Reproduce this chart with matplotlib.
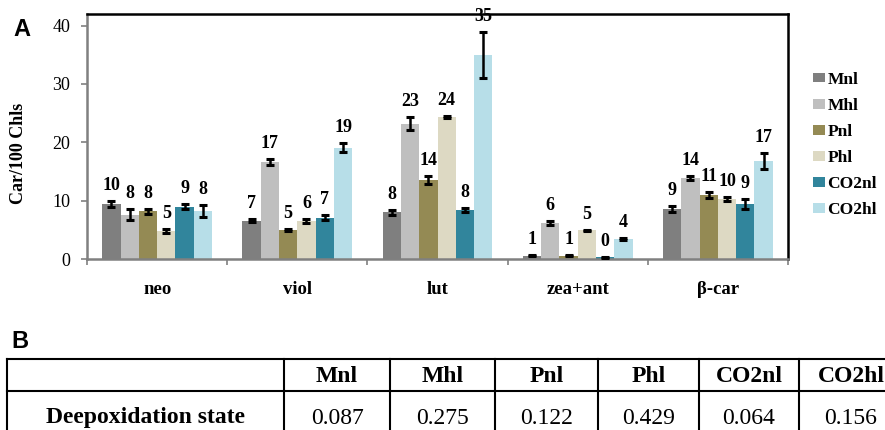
import matplotlib
matplotlib.use("Agg")
import matplotlib.pyplot as plt
from matplotlib.patches import Patch
import numpy as np

plt.rcParams['font.family'] = ['Liberation Serif', 'DejaVu Serif']

# ---------------- data ----------------
categories = ['neo', 'viol', 'lut', 'zea+ant', 'β-car']
series_names = ['Mnl', 'Mhl', 'Pnl', 'Phl', 'CO2nl', 'CO2hl']

Mnl = [9.5, 6.6, 8.0, 0.6, 8.6]
Mhl = [7.6, 16.6, 23.2, 6.2, 13.9]
Pnl = [8.2, 5.0, 13.5, 0.6, 11.0]
Phl = [4.8, 6.5, 24.4, 4.9, 10.3]
CO2nl = [9.0, 7.1, 8.4, 0.3, 9.4]
CO2hl = [8.2, 19.1, 35.0, 3.4, 16.8]

Mnl_err = [0.5, 0.3, 0.4, 0.05, 0.5]
Mhl_err = [0.9, 0.5, 1.1, 0.4, 0.3]
Pnl_err = [0.4, 0.15, 0.7, 0.05, 0.5]
Phl_err = [0.3, 0.4, 0.15, 0.15, 0.3]
CO2nl_err = [0.5, 0.4, 0.3, 0.05, 0.9]
CO2hl_err = [1.0, 0.8, 4.0, 0.2, 1.3]

Mnl_lbl = [10, 7, 8, 1, 9]
Mhl_lbl = [8, 17, 23, 6, 14]
Pnl_lbl = [8, 5, 14, 1, 11]
Phl_lbl = [5, 6, 24, 5, 10]
CO2nl_lbl = [9, 7, 8, 0, 9]
CO2hl_lbl = [8, 19, 35, 4, 17]

yticks = [0, 10, 20, 30, 40]

table_cols = ['Mnl', 'Mhl', 'Pnl', 'Phl', 'CO2nl', 'CO2hl']
table_row_label = 'Deepoxidation state'
deepox = [0.087, 0.275, 0.122, 0.429, 0.064, 0.156]

values = [Mnl, Mhl, Pnl, Phl, CO2nl, CO2hl]
errors = [Mnl_err, Mhl_err, Pnl_err, Phl_err, CO2nl_err, CO2hl_err]
labels = [Mnl_lbl, Mhl_lbl, Pnl_lbl, Phl_lbl, CO2nl_lbl, CO2hl_lbl]
colors = ['#7f7f7f', '#bfbfbf', '#948a54', '#ddd9c3', '#31859c', '#b7dee8']

# ---------------- figure ----------------
W, H = 885, 430
fig = plt.figure(figsize=(W / 100, H / 100), dpi=100)

L, R, T, B = 87, 788, 14, 259
ax = fig.add_axes([L / W, 1 - B / H, (R - L) / W, (B - T) / H])

x = np.arange(len(categories))
bw = 0.1305
for j, (vals, errs, lbls, c) in enumerate(zip(values, errors, labels, colors)):
    pos = x + (j - 2.5) * bw
    ax.bar(pos, vals, width=bw, color=c, edgecolor='none', zorder=2)
    ax.errorbar(pos, vals, yerr=errs, fmt='none', ecolor='black',
                elinewidth=1.8, capsize=3.2, capthick=2.2, zorder=3)
    for p, v, e, lb in zip(pos, vals, errs, lbls):
        ax.annotate(str(lb), (p, v + e), xytext=(0, 5), textcoords='offset points',
                    ha='center', va='bottom', fontsize=13, fontweight='bold',
                    zorder=4)

ax.set_xlim(-0.5, len(categories) - 0.5)
ax.set_ylim(0, 42)
ax.set_yticks(yticks)
ax.set_yticklabels([str(v) for v in yticks], fontsize=13)
ax.tick_params(axis='y', direction='out', length=4, width=1.2, color='#808080', pad=8)

ax.set_xticks(x)
ax.set_xticklabels(categories, fontsize=13.5, fontweight='bold')
ax.set_xticks(np.arange(len(categories) + 1) - 0.5, minor=True)
ax.tick_params(axis='x', which='major', length=0, pad=16)
ax.tick_params(axis='x', which='minor', direction='out', length=4, width=1.2, color='#808080')

for s in ['left', 'bottom']:
    ax.spines[s].set_color('#808080')
    ax.spines[s].set_linewidth(1.8)
for s in ['top', 'right']:
    ax.spines[s].set_color('black')
    ax.spines[s].set_linewidth(1.8)

ax.set_ylabel('Car/100 Chls', fontsize=13, fontweight='bold')
ax.yaxis.set_label_coords((27 - L) / (R - L), (B - 153) / (B - T))

handles = [Patch(facecolor=c, edgecolor='none') for c in colors]
fig.legend(handles, series_names, loc='upper left',
           bbox_to_anchor=(813 / W, 1 - 72 / H), frameon=False,
           prop={'size': 12.5, 'weight': 'bold'}, borderpad=0, borderaxespad=0,
           handlelength=0.7, handleheight=0.45, handletextpad=0.12,
           labelspacing=0.58)

fig.text(22 / W, 1 - 30 / H, 'A', family='Liberation Sans', fontweight='bold',
         fontsize=17, ha='center', va='center')
fig.text(20 / W, 1 - 342 / H, 'B', family='Liberation Sans', fontweight='bold',
         fontsize=17, ha='center', va='center')

# ---------------- table (panel B) ----------------
tax = fig.add_axes([0, 0, 1, 1])
tax.set_xlim(0, W)
tax.set_ylim(H, 0)
tax.axis('off')
tax.patch.set_visible(False)

col_edges = [7, 284, 390, 495, 598, 699, 799, 903]
row_top, row_mid, row_bot = 359, 391, 445
lw = 1.5
tax.plot([col_edges[0], col_edges[-1]], [row_top, row_top], color='black', lw=lw)
tax.plot([col_edges[0], col_edges[-1]], [row_mid, row_mid], color='black', lw=lw)
for xe in col_edges:
    tax.plot([xe, xe], [row_top, row_bot], color='black', lw=lw)

tax.text((col_edges[0] + col_edges[1]) / 2, 418, table_row_label,
         ha='center', va='center', fontsize=17, fontweight='bold')
for k, (name, val) in enumerate(zip(table_cols, deepox)):
    cx = (col_edges[k + 1] + col_edges[k + 2]) / 2
    tax.text(cx, 376, name, ha='center', va='center', fontsize=17, fontweight='bold')
    tax.text(cx, 418, f'{val:.3f}', ha='center', va='center', fontsize=17)

fig.savefig('out.png', dpi=100)
